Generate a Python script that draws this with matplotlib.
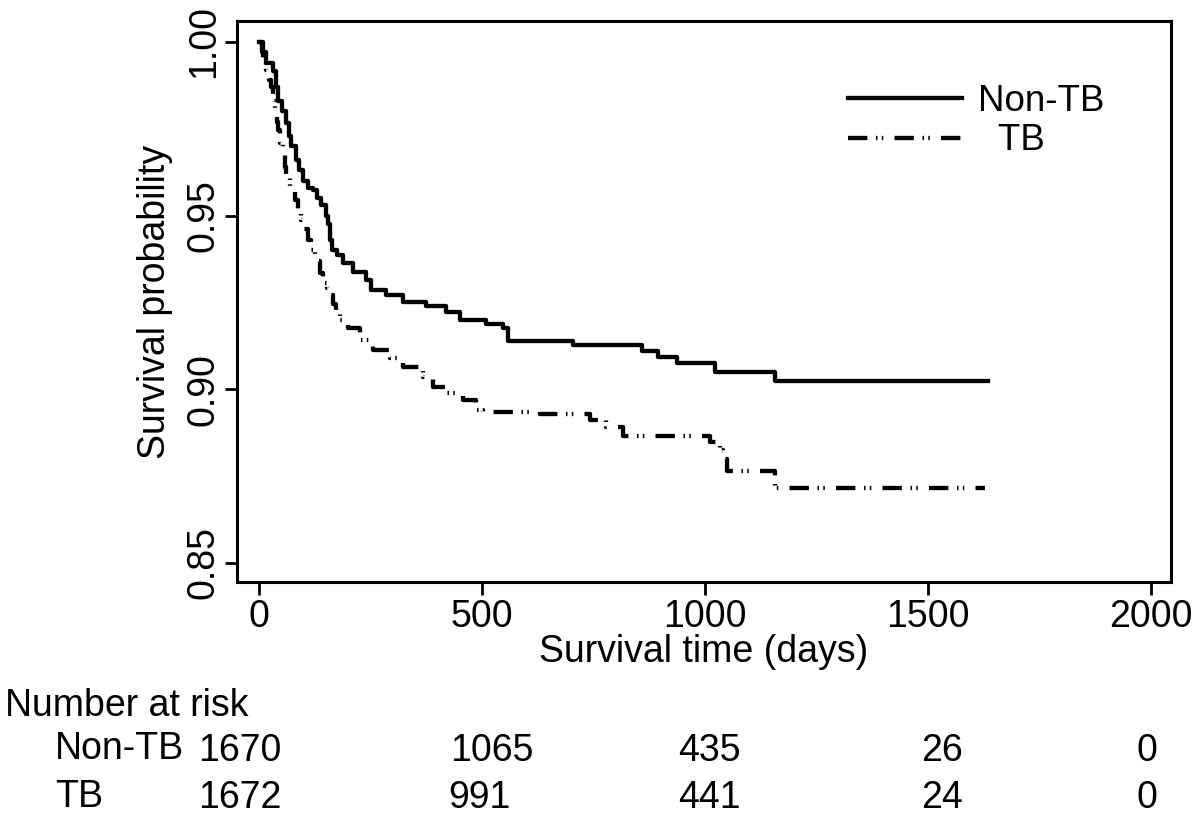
import numpy as np
import matplotlib
matplotlib.use('Agg')
import matplotlib.pyplot as plt
import matplotlib.font_manager as fm
from matplotlib.transforms import blended_transform_factory, offset_copy

# Kaplan-Meier steps (time in days, survival after the step)
nontb_t = [0, 8, 16, 31, 38, 43, 52, 61, 67, 72, 83, 91, 99, 110, 121, 130, 140,
           150, 155, 160, 163, 175, 188, 211, 240, 251, 285, 323, 375, 419, 450,
           509, 547, 558, 704, 858, 895, 938, 1022, 1157]
nontb_s = [1.0, 0.997, 0.994, 0.9915, 0.987, 0.983, 0.980, 0.9767, 0.973, 0.970,
           0.966, 0.963, 0.960, 0.958, 0.9574, 0.955, 0.953, 0.950, 0.9475, 0.943,
           0.940, 0.9385, 0.9364, 0.9338, 0.9315, 0.9286, 0.927, 0.925, 0.924,
           0.9223, 0.920, 0.9188, 0.9177, 0.914, 0.9128, 0.911, 0.9093, 0.9076,
           0.905, 0.9024]
nontb_end = 1634

tb_t = [0, 10, 16, 22, 27, 32, 36, 40, 43, 48, 54, 58, 61, 70, 81, 88, 94, 102,
        110, 118, 126, 137, 143, 152, 159, 167, 173, 182, 200, 226, 256, 294, 323,
        368, 390, 420, 457, 487, 502, 630, 742, 778, 816, 1011, 1034, 1041, 1049,
        1157]
tb_s = [1.0, 0.995, 0.992, 0.989, 0.987, 0.983, 0.980, 0.977, 0.9747, 0.971,
        0.968, 0.964, 0.961, 0.958, 0.9545, 0.951, 0.9487, 0.946, 0.943, 0.940,
        0.937, 0.9335, 0.9306, 0.929, 0.927, 0.9245, 0.9228, 0.920, 0.9177,
        0.9142, 0.9113, 0.909, 0.9064, 0.9035, 0.9007, 0.899, 0.897, 0.894,
        0.8935, 0.893, 0.891, 0.889, 0.8866, 0.8848, 0.8825, 0.880, 0.8765,
        0.8716]
tb_end = 1628

risk_times = [0, 500, 1000, 1500, 2000]
risk_nontb = [1670, 1065, 435, 26, 0]
risk_tb = [1672, 991, 441, 24, 0]

# font: narrow Helvetica look if we have it
names = {f.name for f in fm.fontManager.ttflist}
if 'Liberation Sans Narrow' in names:
    fam, fs = 'Liberation Sans Narrow', 33
else:
    fam, fs = 'Liberation Sans', 27
plt.rcParams['font.family'] = [fam, 'DejaVu Sans']
plt.rcParams['font.size'] = fs

fig = plt.figure(figsize=(12, 8.22), dpi=100)
ax = fig.add_axes([237/1200, 1-582/822, (1171-237)/1200, (582-21)/822])

x1 = nontb_t + [nontb_end]
y1 = nontb_s + [nontb_s[-1]]
x2 = tb_t + [tb_end]
y2 = tb_s + [tb_s[-1]]

ax.step(x1, y1, where='post', c='k', lw=3.1, label='Non-TB')
ax.step(x2, y2, where='post', c='k', lw=3.1, dash_capstyle='butt',
        linestyle=(0, (4.5, 2.0, 0.35, 1.0, 0.35, 2.6)), label='  TB')

ax.set_xlim(-49, 2045)
ax.set_ylim(0.8445, 1.006)
ax.set_xticks([0, 500, 1000, 1500, 2000])
ax.set_yticks([0.85, 0.90, 0.95, 1.00])
ax.set_yticklabels(['0.85', '0.90', '0.95', '1.00'], rotation=90, va='center')
ax.tick_params(direction='out', length=9, width=2, pad=3, labelsize=fs)
ax.tick_params(axis='y', pad=2)
for sp in ax.spines.values():
    sp.set_linewidth(2.2)

ax.set_xlabel('Survival time (days)', fontsize=fs)
ax.xaxis.set_label_coords(0.5, -0.092)
ax.set_ylabel('Survival probability', fontsize=fs)
ax.yaxis.set_label_coords(-0.068, 0.5)

ax.legend(loc='upper left', bbox_to_anchor=((848-237)/934, 1-(84-21)/561),
          frameon=False, borderpad=0, borderaxespad=0, handlelength=3.1,
          handletextpad=0.45, labelspacing=0.12, fontsize=fs*0.98)

# number at risk table
fig.text(5/1200, 1-706/822, 'Number at risk', ha='left', va='center', fontsize=fs)
fig.text(55/1200, 1-749/822, 'Non-TB', ha='left', va='center', fontsize=fs)
fig.text(55/1200, 1-797/822, 'TB', ha='left', va='center', fontsize=fs)
tr = blended_transform_factory(ax.transData, fig.transFigure)
# small horizontal nudges (pixels) so the counts sit as in the original
dx_nontb = [-19, 10, 5, 14, -4]
dx_tb = [-19, -2, 5, 14, -4]
for tt, a, b, d1, d2 in zip(risk_times, risk_nontb, risk_tb, dx_nontb, dx_tb):
    ax.text(tt, 1-751/822, str(a), ha='center', va='center', fontsize=fs,
            transform=offset_copy(tr, fig=fig, x=d1, y=0, units='dots'))
    ax.text(tt, 1-798/822, str(b), ha='center', va='center', fontsize=fs,
            transform=offset_copy(tr, fig=fig, x=d2, y=0, units='dots'))

fig.savefig('out.png', dpi=100, facecolor='white')
